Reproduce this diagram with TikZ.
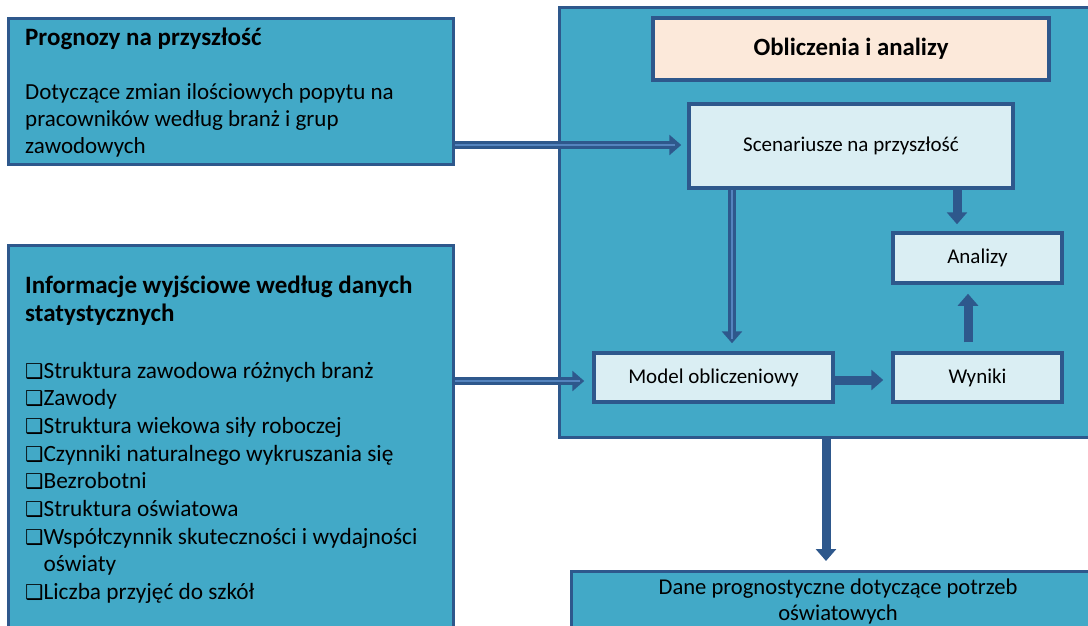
\documentclass[tikz,border=0pt]{standalone}
\usepackage{fontspec}
\setmainfont{Carlito}
\newfontfamily\symfont{DejaVu Sans}
\usetikzlibrary{arrows.meta}

\definecolor{panelblue}{RGB}{66,169,199}
\definecolor{edge}{RGB}{46,88,140}
\definecolor{lightcell}{RGB}{218,238,243}
\definecolor{peach}{RGB}{252,233,218}
\definecolor{innerline}{RGB}{84,132,190}

\newcommand{\bul}{{\symfont\fontsize{20.5}{20}\selectfont ❑}}

\tikzset{
  panel/.style={draw=edge, line width=3pt, fill=panelblue, inner sep=0pt},
  cell/.style={draw=edge, line width=3.5pt, fill=lightcell, inner sep=0pt,
    font=\fontsize{21}{24}\selectfont},
  txt/.style={inner sep=0pt, align=left},
  fat/.style={draw=edge, line width=9pt, -{Triangle[length=12pt,width=20pt]}},
  dbl/.style={draw=edge, line width=8pt, -{Triangle[length=12pt,width=20pt]},
    postaction={draw=innerline, line width=2pt, -, shorten >=12pt}}
}

\begin{document}
\begin{tikzpicture}[x=1pt, y=-1pt]
\useasboundingbox (0,0) rectangle (1088,625);
\clip (0,0) rectangle (1088,625);

% left input panels
\node[panel, minimum width=445pt, minimum height=146pt] (prog) at (230.5,91) {};
\node[txt, anchor=base west, font=\fontsize{25}{28}\selectfont\bfseries] (progtitle) at (25,45) {Prognozy na przyszłość};
\node[txt, anchor=base west, font=\fontsize{23}{27}\selectfont] (progbody) at (25,153)
  {Dotyczące zmian ilościowych popytu na\\ pracowników według branż i grup\\ zawodowych};

\node[panel, minimum width=445pt, minimum height=420pt] (info) at (230.5,455) {};
\node[txt, anchor=base west, font=\fontsize{25}{28}\selectfont\bfseries] (infotitle) at (25,321)
  {Informacje wyjściowe według danych\\ statystycznych};
\node[txt, anchor=base west, font=\fontsize{23.3}{27.7}\selectfont] (infolist) at (25,599.6)
  {\bul Struktura zawodowa różnych branż\\
   \bul Zawody\\
   \bul Struktura wiekowa siły roboczej\\
   \bul Czynniki naturalnego wykruszania się\\
   \bul Bezrobotni\\
   \bul Struktura oświatowa\\
   \bul Współczynnik skuteczności i wydajności\\
   \phantom{\bul}oświaty\\
   \bul Liczba przyjęć do szkół};

% calculation block
\node[panel, minimum width=533pt, minimum height=430pt] (calc) at (825.5,222) {};
\node[draw=edge, line width=3.5pt, fill=peach, minimum width=396pt, minimum height=62pt,
  font=\fontsize{24.8}{28}\selectfont\bfseries] (calctitle) at (851,49) {Obliczenia i analizy};
\node[cell, minimum width=324pt, minimum height=84pt] (scen) at (851,146) {Scenariusze na przyszłość};
\node[cell, minimum width=169pt, minimum height=50pt] (anal) at (977.5,258) {Analizy};
\node[cell, minimum width=169pt, minimum height=49pt] (wyn) at (977.5,377.5) {Wyniki};
\node[cell, minimum width=239pt, minimum height=49pt] (model) at (713.5,377.5) {Model obliczeniowy};

% output panel
\node[panel, minimum width=540pt, minimum height=100pt, anchor=north west] (out) at (570,570) {};
\node[txt, align=center, anchor=base, font=\fontsize{22.6}{26}\selectfont] (outtxt) at (838,620)
  {Dane prognostyczne dotyczące potrzeb\\ oświatowych};

% connectors
\draw[dbl, shorten >=6pt] (prog.east |- 0,145) -- (scen.west |- 0,145);
\draw[dbl, shorten >=8pt] (info.east |- 0,381) -- (model.west |- 0,381);
\draw[dbl, shorten >=8pt] (scen.south -| 732,0) -- (model.north -| 732,0);
\draw[fat, shorten >=7pt] (scen.south -| 957,0) -- (anal.north -| 957,0);
\draw[fat, shorten <=9pt, shorten >=9pt] (wyn.north -| 968,0) -- (anal.south -| 968,0);
\draw[fat, shorten >=8pt] (model.east |- 0,380) -- (wyn.west |- 0,380);
\draw[fat, shorten >=9pt] (calc.south -| 826,0) -- (out.north -| 826,0);
\end{tikzpicture}
\end{document}
